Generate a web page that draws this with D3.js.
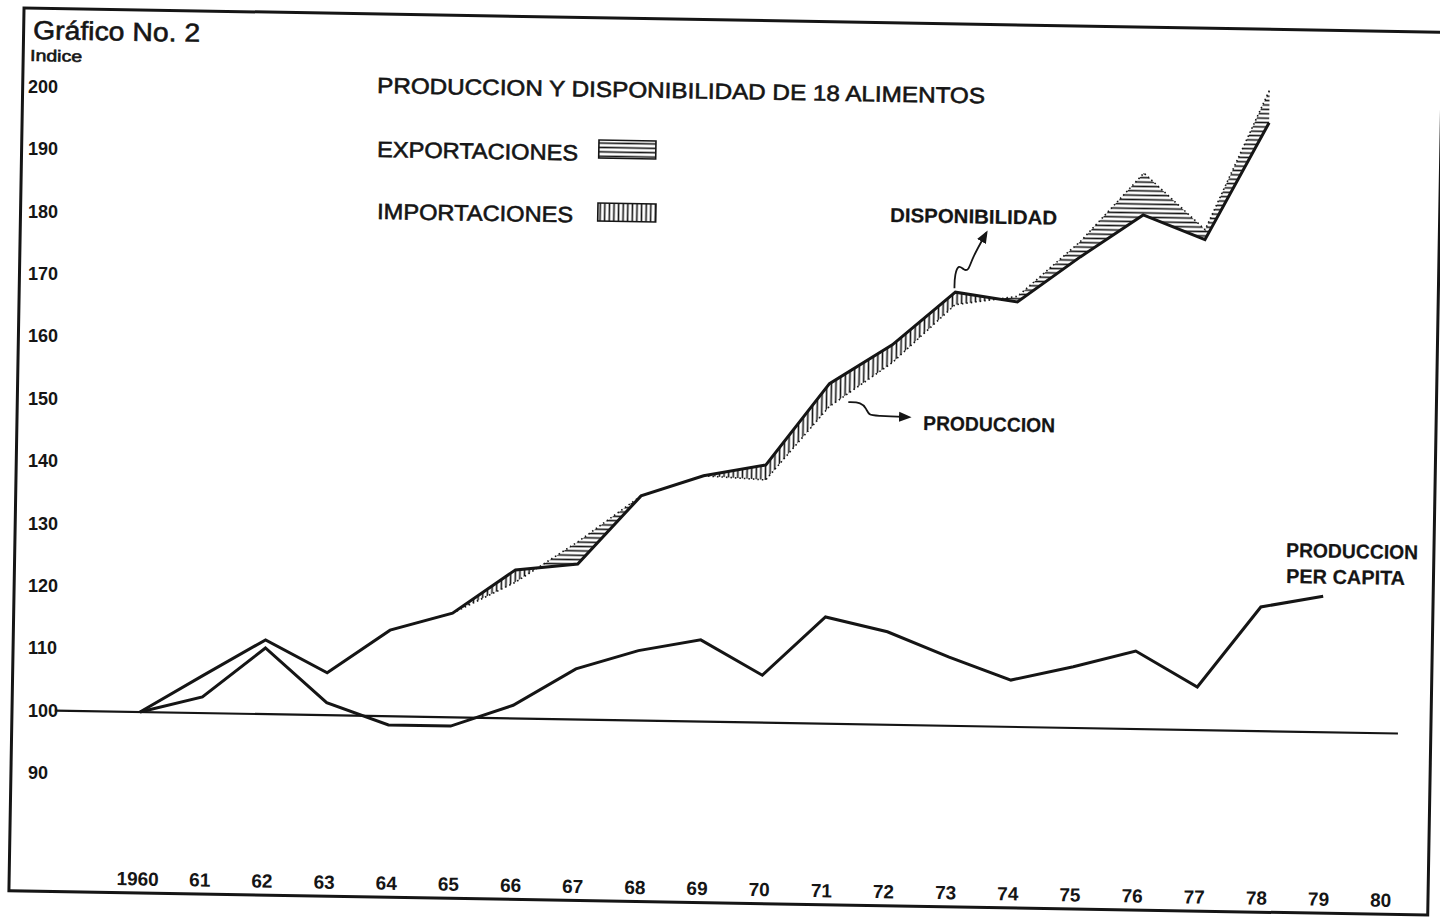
<!DOCTYPE html>
<html>
<head>
<meta charset="utf-8">
<script src="https://cdn.jsdelivr.net/npm/d3@7"></script>
<style>
  html, body { margin: 0; padding: 0; background: #fff; }
  svg { display: block; }
  text { font-family: "Liberation Sans", Arial, sans-serif; fill: #151515; }
</style>
</head>
<body>
<svg id="chart" width="1440" height="919"></svg>
<script>
// Datos (índice, 1960 = 100)
const years = d3.range(1960, 1981);
const yearLabels = ["1960", "61", "62", "63", "64", "65", "66", "67", "68", "69", "70",
  "71", "72", "73", "74", "75", "76", "77", "78", "79", "80"];
const yTicks = [90, 100, 110, 120, 130, 140, 150, 160, 170, 180, 190, 200];

const bandYears = d3.range(1960, 1979);
const disponibilidad = [100, 106, 111.9, 106.8, 113.8, 116.7, 123.8, 124.9, 136, 139.4,
  141.3, 154.5, 160.9, 169.5, 168.1, 175.5, 182.4, 178.6, 197.5];
const produccion = [100, 106, 111.9, 106.8, 113.8, 116.7, 121.8, 128.5, 136, 139.4,
  138.9, 150.8, 158, 167.5, 169, 178, 189.1, 180.2, 202.8];

const perCapitaYears = d3.range(1960, 1980);
const perCapita = [100, 102.6, 110.6, 102, 98.6, 98.6, 102.1, 108.1, 111.2, 113.1,
  107.6, 117.1, 114.9, 111, 107.5, 109.8, 112.5, 106.9, 119.9, 121.8];

// El original está escaneado con una ligera inclinación
const tilt = 0.98;

const svg = d3.select("#chart");

// Escalas
const x = d3.scaleLinear().domain([1960, 1980]).range([140, 140 + 20 * 62.16]);
const y = d3.scaleLinear().domain([100, 200]).range([712, 712 - 624]);

// Tramas (exportaciones horizontal, importaciones vertical)
const defs = svg.append("defs");
defs.append("pattern")
  .attr("id", "hatch-h")
  .attr("patternUnits", "userSpaceOnUse")
  .attr("width", 6).attr("height", 4.4)
  .append("line")
  .attr("x1", 0).attr("x2", 6).attr("y1", 2.2).attr("y2", 2.2)
  .attr("stroke", "#151515").attr("stroke-width", 1.6);
defs.append("pattern")
  .attr("id", "hatch-v")
  .attr("patternUnits", "userSpaceOnUse")
  .attr("width", 4.6).attr("height", 6)
  .append("line")
  .attr("x1", 2.3).attr("x2", 2.3).attr("y1", 0).attr("y2", 6)
  .attr("stroke", "#151515").attr("stroke-width", 1.6);
defs.append("marker")
  .attr("id", "arrow")
  .attr("viewBox", "0 0 10 10")
  .attr("refX", 8).attr("refY", 5)
  .attr("markerWidth", 7).attr("markerHeight", 7)
  .attr("orient", "auto")
  .append("path")
  .attr("d", "M0,1 L10,5 L0,9 Z")
  .attr("fill", "#151515");

const g = svg.append("g").attr("transform", `rotate(${tilt}, 140, 712)`);

// Marco
g.append("rect")
  .attr("x", 12).attr("y", 10)
  .attr("width", 1419).attr("height", 883)
  .attr("fill", "none")
  .attr("stroke", "#151515")
  .attr("stroke-width", 3);

// Eje vertical (rótulos alineados a la izquierda, sin inclinación)
const yAxis = svg.append("g")
  .attr("transform", "translate(28,-1.5)")
  .call(d3.axisLeft(y).tickValues(yTicks).tickSize(0).tickPadding(0));
yAxis.select(".domain").remove();
yAxis.selectAll("text")
  .attr("x", 0)
  .attr("text-anchor", "start")
  .style("font-family", '"Liberation Sans", Arial, sans-serif')
  .style("font-size", "18px")
  .style("font-weight", "bold")
  .attr("fill", "#151515");

const xAxis = g.append("g")
  .attr("transform", "translate(0,869)")
  .call(d3.axisBottom(x).tickValues(years)
    .tickFormat((d, i) => yearLabels[i]).tickSize(0).tickPadding(3));
xAxis.select(".domain").remove();
xAxis.selectAll("text")
  .style("font-family", '"Liberation Sans", Arial, sans-serif')
  .style("font-size", "19px")
  .style("font-weight", "bold")
  .attr("fill", "#151515");

// Línea base 100
g.append("line")
  .attr("x1", x(1958.63)).attr("x2", x(1980.24))
  .attr("y1", y(100)).attr("y2", y(100))
  .attr("stroke", "#151515")
  .attr("stroke-width", 2.2);

// Banda entre producción y disponibilidad, con los cruces
const band = [];
bandYears.forEach((yr, i) => {
  const p = produccion[i], d = disponibilidad[i];
  band.push({ yr, p, d });
  if (i < bandYears.length - 1) {
    const d0 = p - d;
    const d1 = produccion[i + 1] - disponibilidad[i + 1];
    if (d0 * d1 < 0) {
      const t = d0 / (d0 - d1);
      band.push({
        yr: yr + t,
        p: p + t * (produccion[i + 1] - p),
        d: d + t * (disponibilidad[i + 1] - d),
      });
    }
  }
});

const importArea = d3.area()
  .x((b) => x(b.yr))
  .y0((b) => y(b.p))
  .y1((b) => y(Math.max(b.p, b.d)));
const exportArea = d3.area()
  .x((b) => x(b.yr))
  .y0((b) => y(b.d))
  .y1((b) => y(Math.max(b.p, b.d)));

g.append("path").datum(band)
  .attr("d", importArea)
  .attr("fill", "url(#hatch-v)");
g.append("path").datum(band)
  .attr("d", exportArea)
  .attr("fill", "url(#hatch-h)");

// Producción: borde punteado de la trama
g.append("path")
  .datum(bandYears.map((yr, i) => [yr, produccion[i]]))
  .attr("d", d3.line().x((d) => x(d[0])).y((d) => y(d[1])))
  .attr("fill", "none")
  .attr("stroke", "#151515")
  .attr("stroke-width", 1.6)
  .attr("stroke-dasharray", "1.5,3");

// Disponibilidad
g.append("path")
  .datum(bandYears.map((yr, i) => [yr, disponibilidad[i]]))
  .attr("d", d3.line().x((d) => x(d[0])).y((d) => y(d[1])))
  .attr("fill", "none")
  .attr("stroke", "#151515")
  .attr("stroke-width", 3)
  .attr("stroke-linejoin", "miter");

// Producción per cápita
g.append("path")
  .datum(perCapitaYears.map((yr, i) => [yr, perCapita[i]]))
  .attr("d", d3.line().x((d) => x(d[0])).y((d) => y(d[1])))
  .attr("fill", "none")
  .attr("stroke", "#151515")
  .attr("stroke-width", 3);

// Flechas de anotación (relativas a los puntos de datos)
const squiggle = d3.line().curve(d3.curveBasis);
const dx73 = x(1973), dy73 = y(disponibilidad[13]);
g.append("path")
  .attr("d", squiggle([
    [dx73 - 1, dy73 - 4], [dx73 - 1, dy73 - 18], [dx73 + 3, dy73 - 28],
    [dx73 + 8, dy73 - 22], [dx73 + 13, dy73 - 22], [dx73 + 16, dy73 - 34],
    [dx73 + 30, dy73 - 60],
  ]))
  .attr("fill", "none")
  .attr("stroke", "#151515")
  .attr("stroke-width", 1.8)
  .attr("marker-end", "url(#arrow)");

const px72 = x(1972), py72 = y(produccion[12]);
g.append("path")
  .attr("d", squiggle([
    [px72 - 43, py72 + 40], [px72 - 30, py72 + 40], [px72 - 25, py72 + 46],
    [px72 - 22, py72 + 53], [px72 - 15, py72 + 53], [px72 + 18, py72 + 54],
  ]))
  .attr("fill", "none")
  .attr("stroke", "#151515")
  .attr("stroke-width", 1.8)
  .attr("marker-end", "url(#arrow)");

// Textos
function label(txt, x0, y0, size, len, weight) {
  svg.append("text")
    .attr("x", x0).attr("y", y0)
    .attr("transform", `rotate(${tilt}, ${x0}, ${y0})`)
    .attr("textLength", len)
    .attr("lengthAdjust", "spacingAndGlyphs")
    .attr("stroke", "#151515")
    .attr("stroke-width", weight === "bold" ? 0.2 : 0.6)
    .style("font-size", size + "px")
    .style("font-weight", weight || "normal")
    .text(txt);
}

label("Gráfico No. 2", 33, 39, 26, 167, "normal");
label("Indice", 30, 61, 16, 52, "normal");
label("PRODUCCION Y DISPONIBILIDAD DE 18 ALIMENTOS", 377, 93, 22, 608, "normal");
label("EXPORTACIONES", 377, 157, 22, 201, "normal");
label("IMPORTACIONES", 377, 219, 22, 196, "normal");
label("DISPONIBILIDAD", 890, 222, 20, 167, "bold");
label("PRODUCCION", 923, 430, 20, 132, "bold");
label("PRODUCCION", 1286, 557, 20, 132, "bold");
label("PER CAPITA", 1286, 583, 20, 119, "bold");

// Cajas de la leyenda
svg.append("rect")
  .attr("x", 599).attr("y", 140).attr("width", 57).attr("height", 18)
  .attr("transform", `rotate(${tilt}, 599, 140)`)
  .attr("fill", "url(#hatch-h)")
  .attr("stroke", "#151515").attr("stroke-width", 1.6);
svg.append("rect")
  .attr("x", 598).attr("y", 203).attr("width", 58).attr("height", 18)
  .attr("transform", `rotate(${tilt}, 598, 203)`)
  .attr("fill", "url(#hatch-v)")
  .attr("stroke", "#151515").attr("stroke-width", 1.6);
</script>
</body>
</html>
